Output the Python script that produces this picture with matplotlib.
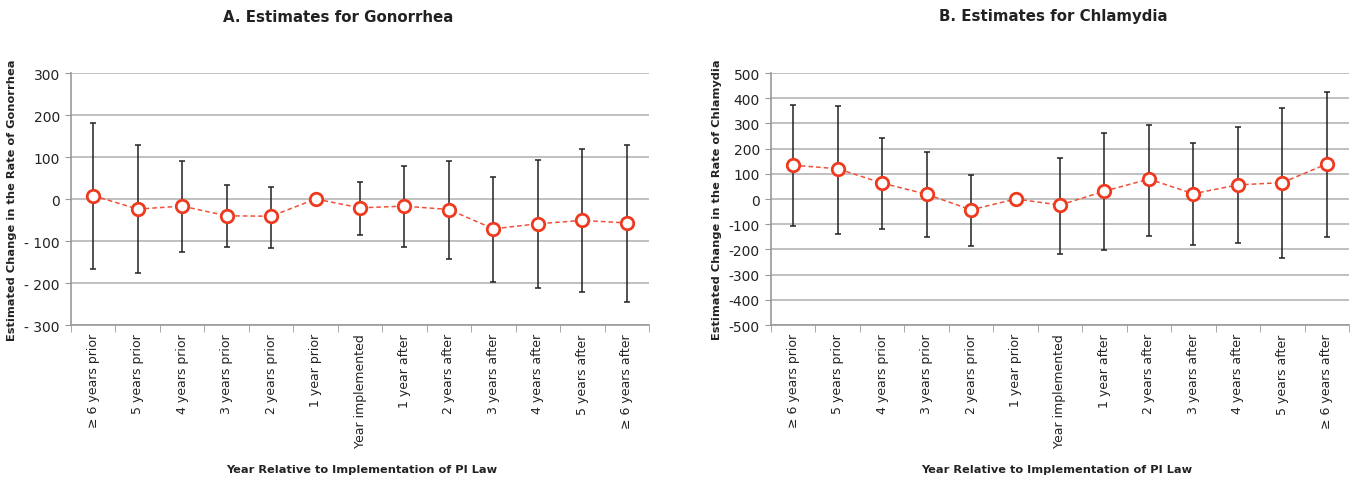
import numpy as np
import matplotlib
matplotlib.use('Agg')
import matplotlib.pyplot as plt

categories = ['\u2265 6 years prior', '5 years prior', '4 years prior', '3 years prior',
              '2 years prior', '1 year prior', 'Year implemented', '1 year after',
              '2 years after', '3 years after', '4 years after', '5 years after',
              '\u2265 6 years after']

# Gonorrhea estimates with lower / upper bounds
gon_est = [8, -24, -17, -40, -41, 0, -21, -17, -25, -71, -59, -51, -57]
gon_low = [-167, -176, -126, -114, -117, 0, -86, -114, -142, -197, -212, -222, -245]
gon_high = [181, 128, 91, 33, 29, 0, 40, 78, 91, 52, 94, 118, 128]

# Chlamydia estimates with lower / upper bounds
chl_est = [134, 120, 63, 19, -43, 0, -24, 31, 79, 21, 56, 65, 139]
chl_low = [-109, -137, -121, -149, -187, 0, -217, -201, -146, -184, -175, -233, -151]
chl_high = [374, 369, 244, 186, 95, 0, 164, 261, 294, 224, 286, 360, 423]

plt.rcParams['font.family'] = ['DejaVu Sans']

fig = plt.figure(figsize=(13.54, 4.81), dpi=100)
W, H = 1354, 481


def draw(rect, est, low, high, ylim, step, ylabel, fmt):
    ax = fig.add_axes(rect)
    x = np.arange(len(est))
    est = np.array(est)
    low = np.array(low)
    high = np.array(high)
    has_err = high != low
    ax.errorbar(x[has_err], est[has_err],
                yerr=[est[has_err] - low[has_err], high[has_err] - est[has_err]],
                fmt='none', ecolor='#222222', elinewidth=1.1, capsize=2.5, capthick=1.1, zorder=3)
    ax.plot(x, est, ls=(0, (3, 2)), color='#f0503a', lw=1.1, zorder=4)
    ax.plot(x, est, ls='none', marker='o', ms=9, mfc='white', mec='#ee3a1e', mew=2, zorder=5)
    ax.set_xlim(-0.5, len(est) - 0.5)
    ax.set_ylim(*ylim)
    ticks = np.arange(ylim[0], ylim[1] + 1, step)
    ax.set_yticks(ticks)
    ax.set_yticklabels([fmt(t) for t in ticks], fontsize=10, color='#222222')
    ax.yaxis.grid(True, color='#b5b5b5', lw=1.2)
    ax.set_axisbelow(True)
    ax.tick_params(axis='y', length=4, color='#999999', pad=4)
    ax.set_xticks(x)
    ax.set_xticklabels(categories, rotation=90, fontsize=9, color='#222222')
    ax.tick_params(axis='x', length=0, pad=6)
    ax.set_xticks(np.arange(-0.5, len(est)), minor=True)
    ax.tick_params(axis='x', which='minor', length=5, color='#999999')
    for s in ['top', 'right']:
        ax.spines[s].set_visible(False)
    for s in ['left', 'bottom']:
        ax.spines[s].set_color('#999999')
        ax.spines[s].set_linewidth(1.2)
    ax.set_ylabel(ylabel, fontsize=8.2, fontweight='bold', labelpad=5, color='#222222')
    return ax


def rect(x0, y0, x1, y1):
    return [x0 / W, 1 - y1 / H, (x1 - x0) / W, (y1 - y0) / H]


draw(rect(71, 74, 649, 326), gon_est, gon_low, gon_high, (-300, 300), 100,
     'Estimated Change in the Rate of Gonorrhea',
     lambda t: f'- {abs(t)}' if t < 0 else f'{t}')
draw(rect(771, 74, 1349, 326), chl_est, chl_low, chl_high, (-500, 500), 100,
     'Estimated Change in the Rate of Chlamydia',
     lambda t: f'{t}')

fig.text(338 / W, 1 - 17 / H, 'A. Estimates for Gonorrhea', ha='center', va='center',
         fontsize=10.8, fontweight='bold', color='#222222')
fig.text(1053 / W, 1 - 17 / H, 'B. Estimates for Chlamydia', ha='center', va='center',
         fontsize=10.8, fontweight='bold', color='#222222')
fig.text(362 / W, 1 - 470 / H, 'Year Relative to Implementation of PI Law', ha='center',
         va='center', fontsize=8.2, fontweight='bold', color='#222222')
fig.text(1057 / W, 1 - 470 / H, 'Year Relative to Implementation of PI Law', ha='center',
         va='center', fontsize=8.2, fontweight='bold', color='#222222')

fig.savefig('out.png', dpi=100)
